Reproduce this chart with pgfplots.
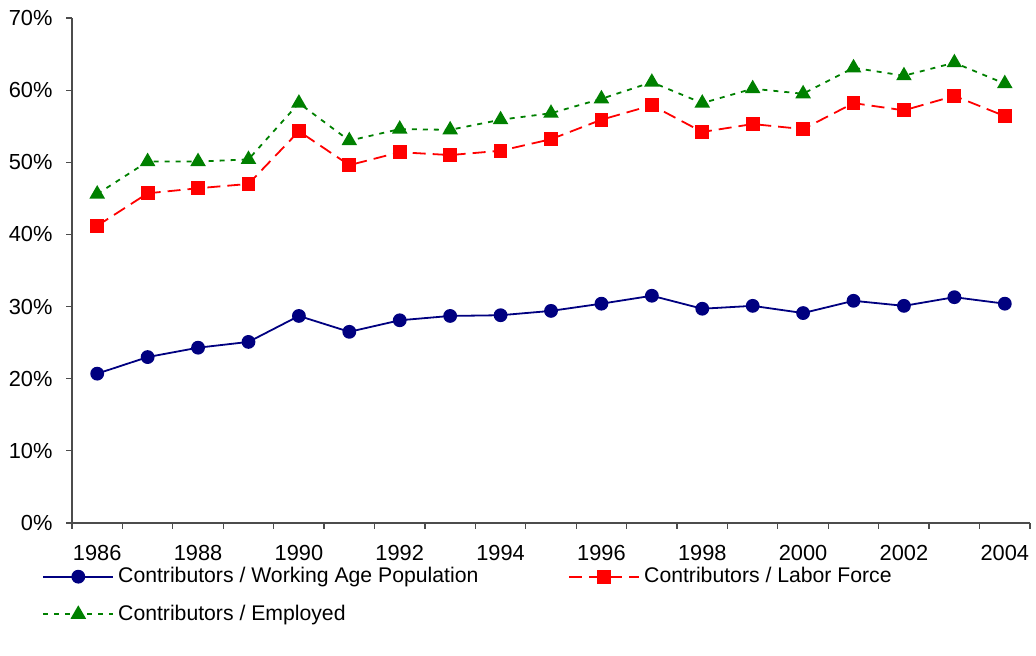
\documentclass[border=0pt]{standalone}
\usepackage{pgfplots}
\pgfplotsset{compat=1.18}
\usepackage{fontspec}
\setmainfont{Liberation Sans}
\usetikzlibrary{calc}
\definecolor{navy}{RGB}{0,0,128}
\definecolor{dgreen}{RGB}{0,128,0}
\begin{document}
\fontsize{10.7}{12}\selectfont
\begin{tikzpicture}
\begin{axis}[
  scale only axis,
  width=479pt, height=252.5pt,
  xmin=1985.5, xmax=2004.5,
  ymin=0, ymax=70,
  axis lines=left,
  axis line style={-, black!70, line width=0.6pt},
  xtick={1986,1988,...,2004},
  xticklabels={1986,1988,1990,1992,1994,1996,1998,2000,2002,2004},
  major x tick style={draw=none},
  minor xtick={1985.5,1986.5,...,2004.5},
  minor tick length=3pt,
  minor x tick style={black!70, line width=0.6pt},
  ytick={0,10,...,70},
  yticklabel={\pgfmathprintnumber{\tick}\%},
  major tick length=3pt,
  y tick style={black!70, line width=0.6pt},
  tick align=outside,
  xtick pos=bottom, ytick pos=left,
  /pgf/number format/assume math mode=true,
  x tick label style={/pgf/number format/1000 sep={}, yshift=-4.5pt},
  y tick label style={xshift=-3pt},
  tick label style={font=\fontsize{10.9}{12}\selectfont},
  legend columns=2,
  legend style={draw=none, fill=none, font=\fontsize{10.6}{12}\selectfont,
    at={(axis description cs:0,0)}, anchor=north west, xshift=-18pt, yshift=-18pt,
    /tikz/every odd column/.append style={column sep=0pt},
    /tikz/every even column/.append style={column sep=43pt},
    row sep=5.5pt},
  legend cell align=left,
  legend image code/.code={\draw[mark repeat=2,mark phase=2,#1] plot coordinates {(0pt,0pt) (17.5pt,0pt) (35pt,0pt)};},
]
\addplot[navy, line width=0.9pt, mark=*, mark size=3pt, mark options={solid, fill=navy}] coordinates {
(1986,20.7) (1987,23.0) (1988,24.3) (1989,25.1) (1990,28.7) (1991,26.5) (1992,28.1)
(1993,28.7) (1994,28.8) (1995,29.4) (1996,30.4) (1997,31.5) (1998,29.7) (1999,30.1)
(2000,29.1) (2001,30.8) (2002,30.1) (2003,31.3) (2004,30.4)};
\addlegendentry{Contributors / Working Age Population}
\addplot[red, line width=0.9pt, dash pattern=on 6.5pt off 3.5pt, mark=square*, mark size=3pt, mark options={solid, fill=red}] coordinates {
(1986,41.2) (1987,45.7) (1988,46.4) (1989,47.0) (1990,54.3) (1991,49.6) (1992,51.4)
(1993,51.0) (1994,51.6) (1995,53.2) (1996,55.9) (1997,57.9) (1998,54.2) (1999,55.3)
(2000,54.6) (2001,58.2) (2002,57.2) (2003,59.2) (2004,56.4)};
\addlegendentry{Contributors / Labor Force}
\addplot[dgreen, line width=0.9pt, dash pattern=on 2.5pt off 3pt, mark=triangle*, mark size=3.6pt, mark options={solid, fill=dgreen}] coordinates {
(1986,45.6) (1987,50.1) (1988,50.1) (1989,50.4) (1990,58.2) (1991,53.0) (1992,54.6)
(1993,54.5) (1994,55.9) (1995,56.8) (1996,58.8) (1997,61.1) (1998,58.2) (1999,60.2)
(2000,59.5) (2001,63.1) (2002,62.0) (2003,63.8) (2004,60.9)};
\addlegendentry{Contributors / Employed}
\end{axis}
\pgfresetboundingbox
\path[use as bounding box] ($(current axis.south west)+(-36pt,-66.5pt)$) rectangle ($(current axis.north east)+(3pt,9pt)$);
\end{tikzpicture}
\end{document}
